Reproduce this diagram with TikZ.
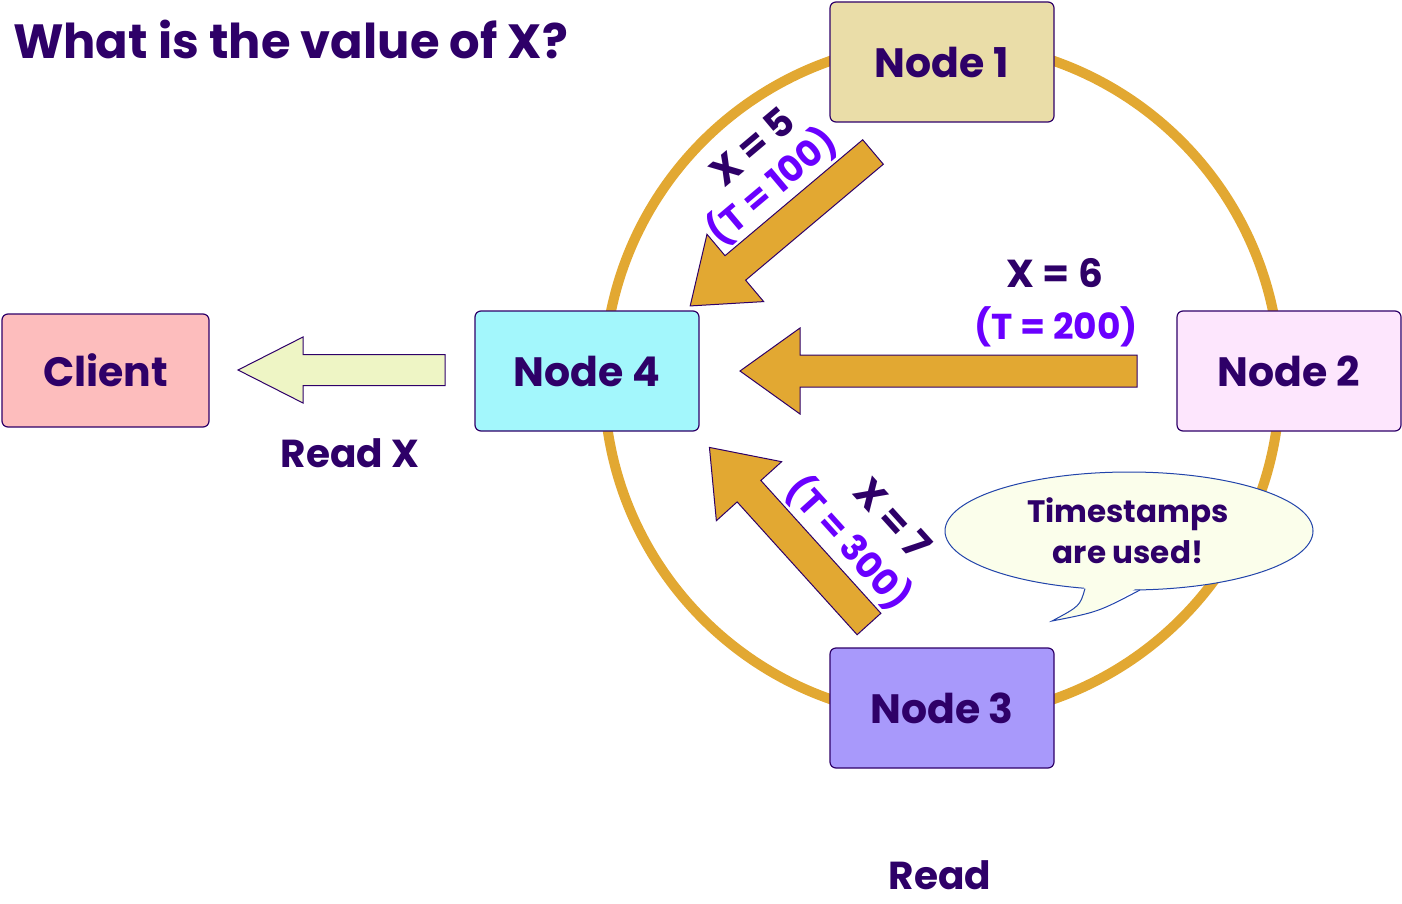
\documentclass[tikz,border=0pt]{standalone}
\usepackage{fontspec}
\setmainfont{Poppins}
\usetikzlibrary{calc}
\definecolor{ink}{HTML}{2E0068}
\definecolor{violetlabel}{HTML}{6A00FF}
\definecolor{ring}{HTML}{E2A832}
\definecolor{nodeone}{HTML}{EADDA8}
\definecolor{nodetwo}{HTML}{FDE6FD}
\definecolor{nodethree}{HTML}{A899FB}
\definecolor{nodefour}{HTML}{A3F7FC}
\definecolor{clientfill}{HTML}{FDBDBD}
\definecolor{readfill}{HTML}{EEF5C5}
\definecolor{bubblefill}{HTML}{FBFEEB}
\definecolor{bubbleedge}{HTML}{2244AA}
% fat block arrow: style, tail, angle, length, shaft half width, head half width, head length
\newcommand{\fatarrow}[7]{%
    \begin{scope}[shift={(#2)}, rotate=#3]
    \draw[#1] (0, -#5) -- (#4-#7, -#5) -- (#4-#7, -#6) -- (#4, 0)
        -- (#4-#7, #6) -- (#4-#7, #5) -- (0, #5) -- cycle;
    \end{scope}
}

\begin{document}
\begin{tikzpicture}[x=0.5pt, y=-0.5pt,
    box/.style={draw=ink, line width=0.6pt, rounded corners=3pt, text=ink,
        font=\fontsize{20.5}{24}\selectfont\bfseries, minimum width=112pt, minimum height=60pt},
    gold/.style={fill=ring, draw=ink, line width=0.5pt},
    pale/.style={fill=readfill, draw=ink, line width=0.5pt},
    lbl/.style={text=ink, inner sep=1pt, font=\fontsize{19.5}{22}\selectfont\bfseries},
    tlbl/.style={text=violetlabel, inner sep=1pt, font=\fontsize{18}{22}\selectfont\bfseries}]

\useasboundingbox (0, 0) rectangle (1402, 904);

% title
\node[anchor=west, text=ink, font=\fontsize{24}{28}\selectfont\bfseries] (title) at (6, 39) {What is the value of X?};

% ring
\draw[ring, line width=5pt] (942, 380) circle [radius=169pt];

% nodes
\node[box, fill=nodeone] (n1) at (942, 62) {Node 1};
\node[box, fill=nodetwo] (n2) at (1289, 371) {Node 2};
\node[box, fill=nodethree] (n3) at (942, 708) {Node 3};
\node[box, fill=nodefour] (n4) at (587, 371) {Node 4};
\node[box, fill=clientfill, minimum width=103.5pt, minimum height=56.5pt] (client) at (105.5, 370.5) {Client};

% arrows into node 4
\coordinate (fromone) at (873, 152);
\coordinate (fromtwo) at (1137, 371);
\coordinate (fromthree) at (869, 624);
\coordinate (fromfour) at (445, 370);
\fatarrow{gold}{fromone}{-139.9}{239}{16}{44}{59}
\fatarrow{gold}{fromtwo}{180}{397}{16}{43}{60}
\fatarrow{gold}{fromthree}{132.1}{238}{16}{44}{59}
\fatarrow{pale}{fromfour}{180}{207}{15.5}{33}{65}

% values and timestamps
\node[lbl, rotate=40.1] (x5) at (752, 146) {X = 5};
\node[tlbl, rotate=40.1] (t100) at (772, 186) {(T = 100)};
\node[lbl] (x6) at (1055, 273) {X = 6};
\node[tlbl] (t200) at (1056, 327) {(T = 200)};
\node[lbl, rotate=-47.9] (x7) at (893, 518) {X = 7};
\node[tlbl, rotate=-47.9] (t300) at (849, 543) {(T = 300)};

% read labels
\node[lbl] (readx) at (350, 453) {Read X};
\node[lbl] (read) at (940, 875) {Read};

% speech bubble
\draw[fill=bubblefill, draw=bubbleedge, line width=0.5pt] (1129, 531) ellipse [x radius=92pt, y radius=29.5pt];
\fill[bubblefill] (1085, 584) .. controls (1080, 606) .. (1052, 621) .. controls (1098, 612) .. (1140, 586) -- cycle;
\draw[bubbleedge, line width=0.5pt] (1085, 588.5) .. controls (1080, 606) .. (1052, 621) .. controls (1098, 612) .. (1140, 590);
\node[text=ink, font=\fontsize{15.5}{20.5}\selectfont\bfseries, align=center] (bubble) at (1128, 531) {Timestamps\\are used!};
\end{tikzpicture}
\end{document}
